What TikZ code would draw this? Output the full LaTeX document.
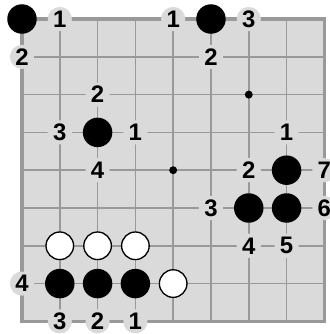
\documentclass[tikz,border=0pt]{standalone}
\usepackage{fontspec}
\newfontfamily\chiffres{Liberation Sans}
\definecolor{plateau}{HTML}{DADADA}
\definecolor{trait}{HTML}{999999}

\begin{document}
\begin{tikzpicture}[
    noire/.style={circle, fill=black, minimum size=0.78cm, inner sep=0pt},
    blanche/.style={circle, draw=black, line width=1pt, fill=white, minimum size=0.73cm, inner sep=0pt},
    hoshi/.style={circle, fill=black, minimum size=0.21cm, inner sep=0pt},
    coup/.style={circle, fill=plateau, minimum size=0.64cm, inner sep=0pt, font=\fontsize{18}{18}\chiffres\bfseries\selectfont},
    grille/.style={trait, line width=1.2pt},
    bord/.style={trait, line width=2.4pt}
]
\useasboundingbox (-0.582,0.503) rectangle (8.123,-8.334);

% Plateau
\fill[plateau] (0,0) rectangle (8,-8);
\draw[grille] (0,-8) grid (8,0);
\draw[bord] (0,0) rectangle (8,-8);

% Hoshi
\node[hoshi] (h1) at (6,-2) {};
\node[hoshi] (h2) at (4,-4) {};

% Pierres noires
\node[noire] (n1) at (0,0) {};
\node[noire] (n2) at (5,0) {};
\node[noire] (n3) at (2,-3) {};
\node[noire] (n4) at (7,-4) {};
\node[noire] (n5) at (6,-5) {};
\node[noire] (n6) at (7,-5) {};
\node[noire] (n7) at (1,-7) {};
\node[noire] (n8) at (2,-7) {};
\node[noire] (n9) at (3,-7) {};

% Pierres blanches
\node[blanche] (b1) at (1,-6) {};
\node[blanche] (b2) at (2,-6) {};
\node[blanche] (b3) at (3,-6) {};
\node[blanche] (b4) at (4,-7) {};

% Coups numérotés
\node[coup] (c1) at (1,0) {1};
\node[coup] (c2) at (0,-1) {2};
\node[coup] (c3) at (4,0) {1};
\node[coup] (c4) at (6,0) {3};
\node[coup] (c5) at (5,-1) {2};
\node[coup] (c6) at (2,-2) {2};
\node[coup] (c7) at (1,-3) {3};
\node[coup] (c8) at (3,-3) {1};
\node[coup] (c9) at (2,-4) {4};
\node[coup] (c10) at (7,-3) {1};
\node[coup] (c11) at (6,-4) {2};
\node[coup] (c12) at (8,-4) {7};
\node[coup] (c13) at (5,-5) {3};
\node[coup] (c14) at (8,-5) {6};
\node[coup] (c15) at (6,-6) {4};
\node[coup] (c16) at (7,-6) {5};
\node[coup] (c17) at (0,-7) {4};
\node[coup] (c18) at (1,-8) {3};
\node[coup] (c19) at (2,-8) {2};
\node[coup] (c20) at (3,-8) {1};

\end{tikzpicture}
\end{document}
